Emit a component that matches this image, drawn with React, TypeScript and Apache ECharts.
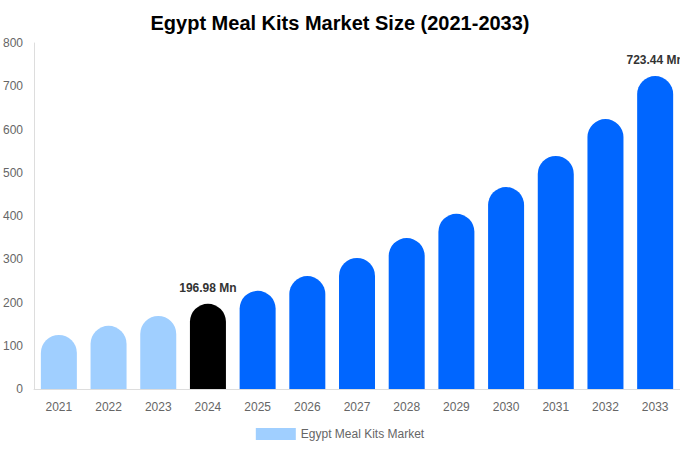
import { useEffect, useRef } from "react";
import * as echarts from "echarts";

const YEARS = ["2021", "2022", "2023", "2024", "2025", "2026", "2027", "2028", "2029", "2030", "2031", "2032", "2033"];
const VALUES = [125, 146, 169, 196.98, 227, 261, 303, 349, 405, 467, 539, 624, 723.44];
// historic = light, base year = black, forecast = blue
const PHASES = ["hist", "hist", "hist", "base", "fc", "fc", "fc", "fc", "fc", "fc", "fc", "fc", "fc"];
const LABELLED = ["2024", "2033"];

const COLORS: Record<string, string> = {
  hist: "#a0cfff",
  base: "#000000",
  fc: "#0066ff",
};

export default function App() {
  const ref = useRef<HTMLDivElement>(null);

  useEffect(() => {
    if (!ref.current) return;
    const chart = echarts.init(ref.current, undefined, { renderer: "svg" });

    const data = VALUES.map((v, i) => ({
      value: v,
      itemStyle: { color: COLORS[PHASES[i]] },
      label: {
        show: LABELLED.includes(YEARS[i]),
        position: "top" as const,
        distance: 10,
        formatter: `${v.toFixed(2)} Mn`,
        fontWeight: "bold" as const,
        fontSize: 12,
        color: "#333",
        fontFamily: "Liberation Sans, Arial, sans-serif",
      },
    }));

    chart.setOption({
      animation: false,
      textStyle: { fontFamily: "Liberation Sans, Arial, sans-serif" },
      title: {
        text: "Egypt Meal Kits Market Size (2021-2033)",
        left: "center",
        top: 8,
        textStyle: { fontSize: 20, fontWeight: "bold", color: "#000" },
      },
      legend: {
        bottom: 5,
        left: "center",
        icon: "rect",
        itemWidth: 40,
        itemHeight: 12,
        itemGap: 6,
        data: [{ name: "Egypt Meal Kits Market", itemStyle: { color: COLORS.hist } }],
        textStyle: { color: "#666", fontSize: 12 },
      },
      grid: { left: 34, right: 0, top: 43, bottom: 61, containLabel: false },
      xAxis: {
        type: "category",
        data: YEARS,
        axisTick: { show: false },
        axisLine: { lineStyle: { color: "#ddd" } },
        axisLabel: { color: "#666", fontSize: 12, margin: 12 },
      },
      yAxis: {
        type: "value",
        min: 0,
        max: 800,
        interval: 100,
        splitLine: { show: false },
        axisLine: { show: true, lineStyle: { color: "#ddd" } },
        axisLabel: { color: "#666", fontSize: 12, margin: 11 },
      },
      series: [
        {
          name: "Egypt Meal Kits Market",
          type: "bar",
          data,
          barWidth: 36,
          itemStyle: { borderRadius: [18, 18, 0, 0] },
        },
      ],
    });

    return () => chart.dispose();
  }, []);

  return (
    <div
      ref={ref}
      style={{ position: "absolute", left: 0, top: 0, width: 680, height: 450, background: "#fff" }}
    />
  );
}
